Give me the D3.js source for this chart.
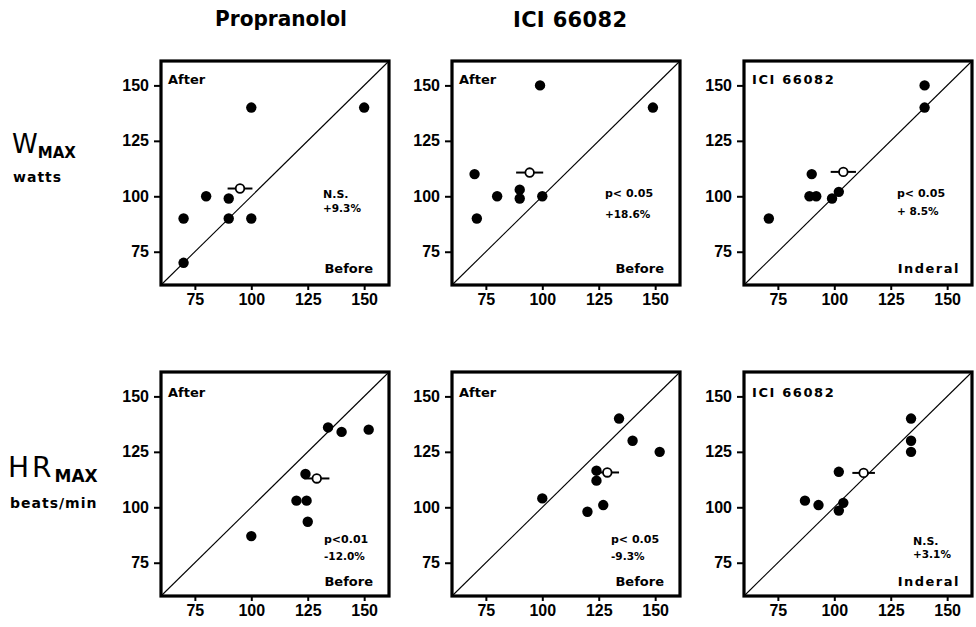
<!DOCTYPE html>
<html>
<head>
<meta charset="utf-8">
<script src="https://cdn.jsdelivr.net/npm/d3@7"></script>
<style>
  body { margin: 0; background: #fff; }
  svg { display: block; }
  .tick text { font-family: "Liberation Sans", Arial, sans-serif; font-weight: bold; font-size: 16px; fill: #000; }
  .ann { font-family: "DejaVu Sans", sans-serif; font-weight: bold; fill: #000; }
</style>
</head>
<body>
<div id="chart"></div>
<script>
// ── Data ───────────────────────────────────────────────────────────────────
const columnTitles = ['Propranolol', 'ICI 66082'];
const ticks = [75, 100, 125, 150];

// W max (watts)
const wPropBefore = [100, 150, 80, 90, 70, 90, 100, 70];
const wPropAfter  = [140, 140, 100, 99, 90, 90, 90, 70];
const wIciBefore  = [99, 149, 70, 71, 80, 90, 90, 100];
const wIciAfter   = [150, 140, 110, 90, 100, 103, 99, 100];
const wInderal    = [140, 140, 90, 89, 92, 99, 102, 71];
const wIciVsInd   = [150, 140, 110, 100, 100, 99, 102, 90];

// HR max (beats/min)
const hrPropBefore = [134, 140, 152, 124, 120, 124.5, 125, 100];
const hrPropAfter  = [136, 134, 135, 115, 103, 103, 93.5, 87];
const hrIciBefore  = [134, 140, 152, 124, 124, 100, 120, 127];
const hrIciAfter   = [140, 130, 125, 116.5, 112, 104, 98, 101];
const hrInderal    = [134, 134, 134, 102, 87, 93, 102, 104];
const hrIciVsInd   = [140, 130, 125, 116, 103, 101, 98.5, 102];

// group means (open circles) and horizontal error half-widths
const meanX = [95, 94.4, 104, 129, 128.8, 113];
const meanY = [103.5, 110.7, 111, 113, 115.7, 115.5];
const meanErr = [5.5, 6, 5.6, 5.6, 5.2, 5];

const cornerLabels = ['After', 'After', 'ICI 66082', 'After', 'After', 'ICI 66082'];
const axisLabels   = ['Before', 'Before', 'Inderal', 'Before', 'Before', 'Inderal'];
const statLines = [
  ['N.S.', '+9.3%'], ['p< 0.05', '+18.6%'], ['p< 0.05', '+ 8.5%'],
  ['p<0.01', '-12.0%'], ['p< 0.05', '-9.3%'], ['N.S.', '+3.1%'],
];

const panels = [
  [wPropBefore, wPropAfter], [wIciBefore, wIciAfter], [wInderal, wIciVsInd],
  [hrPropBefore, hrPropAfter], [hrIciBefore, hrIciAfter], [hrInderal, hrIciVsInd],
];

// ── Layout ────────────────────────────────────────────────────────────────
const W = 976, H = 627;
const PW = 228, PH = 224;
const colX = [161, 452, 744];
const rowY = [61, 372];
const DOMAIN = [60, 161];
// stat text offsets inside each frame [x, y1, y2]
const statPos = [[162, 137, 151], [153, 136, 157], [153, 136, 154],
                 [163, 171, 188], [159, 171, 188], [169, 173, 186]];

const svg = d3.select('#chart').append('svg')
  .attr('width', W).attr('height', H);

// column titles
svg.append('text').attr('class', 'ann')
  .attr('x', 281).attr('y', 26).attr('text-anchor', 'middle')
  .attr('font-size', 21).attr('textLength', 132).attr('lengthAdjust', 'spacingAndGlyphs')
  .text(columnTitles[0]);
svg.append('text').attr('class', 'ann')
  .attr('x', 570).attr('y', 27).attr('text-anchor', 'middle')
  .attr('font-size', 21).attr('textLength', 114).attr('lengthAdjust', 'spacing')
  .text(columnTitles[1]);

// row labels
const wl = svg.append('text').attr('class', 'ann').attr('x', 12).attr('y', 153);
wl.append('tspan').attr('font-size', 26).attr('font-weight', 'normal').text('W');
wl.append('tspan').attr('font-size', 15).attr('dy', 5).text('MAX');
svg.append('text').attr('class', 'ann').attr('x', 13).attr('y', 182)
  .attr('font-size', 14).attr('letter-spacing', 1).text('watts');

const hl = svg.append('text').attr('class', 'ann').attr('x', 8).attr('y', 477);
hl.append('tspan').attr('font-size', 28).attr('font-weight', 'normal').attr('letter-spacing', 3).text('HR');
hl.append('tspan').attr('font-size', 17).attr('dy', 5).text('MAX');
svg.append('text').attr('class', 'ann').attr('x', 10).attr('y', 508)
  .attr('font-size', 14).attr('letter-spacing', 1).text('beats/min');

// ── Panels ────────────────────────────────────────────────────────────────
panels.forEach(([xs, ys], i) => {
  const col = i % 3, row = Math.floor(i / 3);
  const g = svg.append('g').attr('transform', `translate(${colX[col]},${rowY[row]})`);

  const x = d3.scaleLinear().domain(DOMAIN).range([0, PW]);
  const y = d3.scaleLinear().domain(DOMAIN).range([PH, 0]);

  const yAxis = g.append('g')
    .call(d3.axisLeft(y).tickValues(ticks).tickSize(7).tickPadding(5));
  const xAxis = g.append('g').attr('transform', `translate(0,${PH})`)
    .call(d3.axisBottom(x).tickValues(ticks).tickSize(5).tickPadding(4));
  [xAxis, yAxis].forEach(a => {
    a.select('.domain').remove();
    a.selectAll('.tick line').attr('stroke', '#000').attr('stroke-width', 2);
  });

  // identity line
  g.append('line')
    .attr('x1', x(DOMAIN[0])).attr('y1', y(DOMAIN[0]))
    .attr('x2', x(DOMAIN[1])).attr('y2', y(DOMAIN[1]))
    .attr('stroke', '#000').attr('stroke-width', 1.1);

  g.append('rect').attr('width', PW).attr('height', PH)
    .attr('fill', 'none').attr('stroke', '#000').attr('stroke-width', 3.2);

  // mean error bar
  g.append('line')
    .attr('x1', x(meanX[i] - meanErr[i])).attr('x2', x(meanX[i] + meanErr[i]))
    .attr('y1', y(meanY[i])).attr('y2', y(meanY[i]))
    .attr('stroke', '#000').attr('stroke-width', 2);

  g.selectAll('circle.pt').data(xs.map((v, j) => [v, ys[j]])).join('circle')
    .attr('class', 'pt')
    .attr('cx', d => x(d[0])).attr('cy', d => y(d[1]))
    .attr('r', 5.2).attr('fill', '#000');

  g.append('circle')
    .attr('cx', x(meanX[i])).attr('cy', y(meanY[i])).attr('r', 4.3)
    .attr('fill', '#fff').attr('stroke', '#000').attr('stroke-width', 1.8);

  // texts
  const isIci = cornerLabels[i] !== 'After';
  g.append('text').attr('class', 'ann')
    .attr('x', isIci ? 8 : 7).attr('y', row === 0 ? 23 : 25)
    .attr('font-size', 13).attr('letter-spacing', isIci ? 1.6 : 0)
    .text(cornerLabels[i]);
  g.append('text').attr('class', 'ann')
    .attr('x', PW - (isIci ? 12 : 16)).attr('y', PH - (row === 0 ? 12 : 10))
    .attr('text-anchor', 'end')
    .attr('font-size', 13).attr('letter-spacing', isIci ? 1.5 : 0)
    .text(axisLabels[i]);

  const [sx, sy1, sy2] = statPos[i];
  g.append('text').attr('class', 'ann').attr('x', sx).attr('y', sy1)
    .attr('font-size', 11).text(statLines[i][0]);
  g.append('text').attr('class', 'ann').attr('x', sx).attr('y', sy2)
    .attr('font-size', 10.5).text(statLines[i][1]);
});
</script>
</body>
</html>
